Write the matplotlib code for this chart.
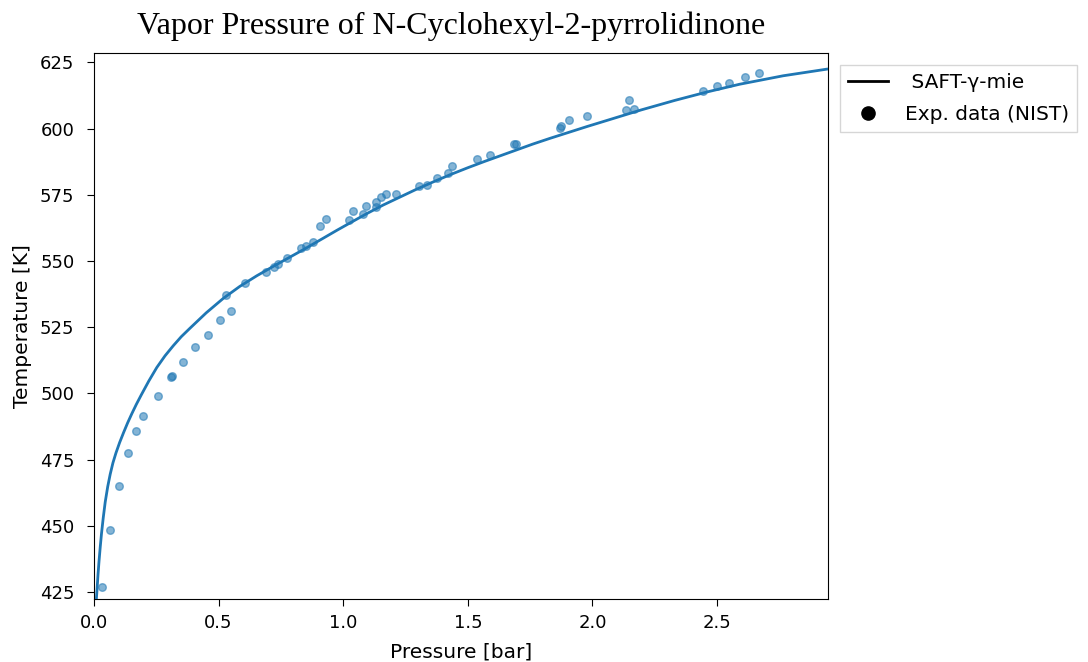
import matplotlib
matplotlib.use("Agg")
import matplotlib.pyplot as plt
from matplotlib.lines import Line2D

# SAFT-gamma-Mie model curve
model_p = [0.008, 0.012, 0.016, 0.020, 0.025, 0.030, 0.037, 0.045, 0.055, 0.065,
           0.076, 0.088, 0.103, 0.119, 0.135, 0.152, 0.17, 0.19, 0.22, 0.252,
           0.285, 0.318, 0.35, 0.385, 0.45, 0.519, 0.585, 0.653, 0.72, 0.787,
           0.85, 0.92, 0.975, 1.03, 1.095, 1.16, 1.225, 1.29, 1.36, 1.43, 1.50,
           1.565, 1.63, 1.695, 1.76, 1.83, 1.90, 1.98, 2.06, 2.195, 2.33, 2.46,
           2.59, 2.765, 2.94]
model_t = [420.5, 425.7, 431.5, 436.5, 442.0, 447.0, 453.0, 459.0, 464.8, 469.5,
           473.8, 477.5, 481.5, 485.3, 488.9, 492.4, 495.9, 499.5, 504.7, 509.8,
           514.2, 518.0, 521.4, 524.6, 530.4, 535.9, 540.4, 544.4, 548.0, 551.5,
           554.8, 558.6, 561.6, 564.5, 567.9, 571.1, 574.0, 576.9, 579.8, 582.6,
           585.2, 587.5, 589.7, 591.9, 594.1, 596.3, 598.4, 600.8, 603.1, 607.0,
           610.6, 613.8, 616.7, 619.9, 622.4]

# Experimental data (NIST)
exp_p = [0.032, 0.064, 0.101, 0.137, 0.167, 0.195, 0.255, 0.307, 0.312, 0.356, 0.404,
         0.457, 0.504, 0.551, 0.530, 0.607, 0.689, 0.724, 0.737, 0.773, 0.831, 0.850,
         0.880, 0.905, 0.932, 1.023, 1.040, 1.080, 1.091, 1.132, 1.131, 1.152, 1.173,
         1.211, 1.305, 1.335, 1.375, 1.419, 1.435, 1.537, 1.589, 1.686, 1.694, 1.870,
         1.875, 1.905, 1.977, 2.135, 2.167, 2.147, 2.444, 2.499, 2.546, 2.610, 2.669]
exp_t = [426.9, 448.3, 465.0, 477.5, 485.8, 491.4, 499.1, 506.2, 506.4, 511.9, 517.4,
         521.9, 527.6, 531.0, 537.3, 541.6, 545.8, 547.8, 548.8, 551.1, 554.9, 555.6,
         557.3, 563.2, 565.8, 565.6, 569.0, 567.8, 570.8, 570.2, 572.3, 574.0, 575.3,
         575.3, 578.3, 578.6, 581.3, 583.1, 585.8, 588.3, 590.1, 594.0, 594.0, 600.3,
         600.8, 603.1, 604.7, 606.9, 607.4, 610.8, 614.2, 616.0, 617.0, 619.3, 620.8]

fig = plt.figure(figsize=(10.88, 6.62), dpi=100)
ax = fig.add_axes([94/1088, 1-599/662, (828-94)/1088, (599-53)/662])

ax.plot(model_p, model_t, color="#1f77b4", lw=2.0, zorder=3)
ax.scatter(exp_p, exp_t, s=30, color="#1f77b4", alpha=0.55, zorder=2)

ax.set_xlim(0, 2.945)
ax.set_ylim(422.4, 628.5)
ax.set_xticks([0.0, 0.5, 1.0, 1.5, 2.0, 2.5])
ax.set_yticks([425, 450, 475, 500, 525, 550, 575, 600, 625])
ax.tick_params(labelsize=13, length=5)
ax.tick_params(axis="y", pad=9)
ax.tick_params(axis="x", pad=6)
ax.set_xlabel("Pressure [bar]", fontsize=14.5, labelpad=7)
ax.set_ylabel("Temperature [K]", fontsize=14.5, labelpad=6)

handles = [Line2D([], [], color="black", lw=2),
           Line2D([], [], color="black", marker="o", ls="none", markersize=9.5)]
ax.legend(handles, [" SAFT-\u03b3-mie", "Exp. data (NIST)"], loc="upper left",
          bbox_to_anchor=(1.0, 1.0), fontsize=14.5, frameon=True, fancybox=False,
          borderaxespad=0.6, labelspacing=0.65)

fig.text(451/1088, 1-26/662, "Vapor Pressure of N-Cyclohexyl-2-pyrrolidinone",
         ha="center", va="center", fontsize=23, family="Liberation Serif")

fig.savefig("out.png", dpi=100)
